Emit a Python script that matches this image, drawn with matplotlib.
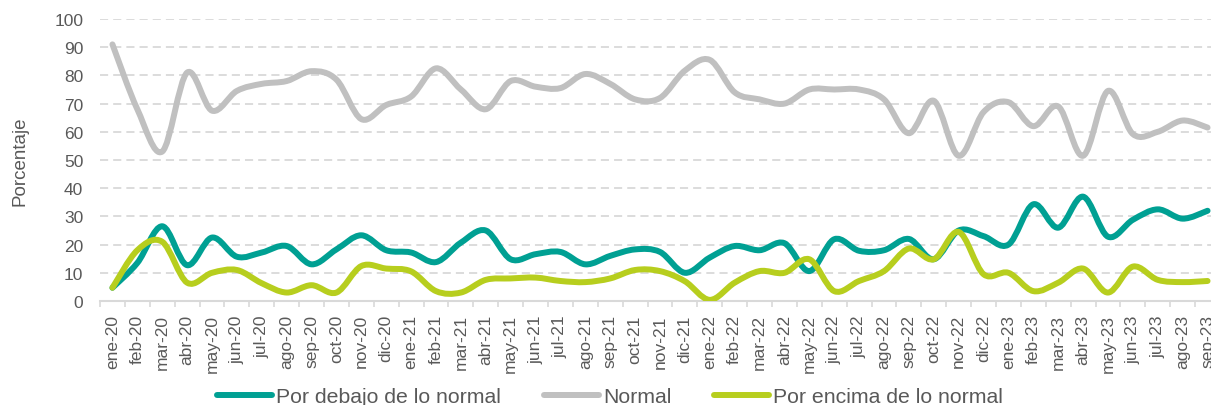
import numpy as np
import matplotlib
matplotlib.use("Agg")
import matplotlib.pyplot as plt
from matplotlib.path import Path
from matplotlib.patches import PathPatch
from matplotlib.lines import Line2D

plt.rcParams['font.family'] = ['Liberation Sans', 'DejaVu Sans']

# data
month_names = ['ene', 'feb', 'mar', 'abr', 'may', 'jun', 'jul', 'ago', 'sep', 'oct', 'nov', 'dic']
labels = [f'{m}-{y}' for y in ['20', '21', '22'] for m in month_names] + \
         [f'{m}-23' for m in month_names[:9]]

debajo = [4.7, 13.5, 26.5, 12.7, 22.5, 15.7, 17.2, 19.5, 13, 18.3, 23.3, 18,
          17.2, 13.8, 20.7, 25, 14.8, 16.6, 17.4, 13, 16, 18.3, 17.4, 10,
          15.4, 19.5, 18, 20.5, 10.6, 21.9, 17.8, 18, 22, 14.8, 25, 23,
          20, 34.3, 26, 37, 22.8, 28.8, 32.5, 29.2, 32]
normal = [91, 68, 53, 81, 67.5, 74.5, 77, 78, 81.5, 78.5, 64.5, 69.5,
          72.5, 82.5, 75, 68, 78, 76, 75.5, 80.5, 77, 71.5, 72, 81.7,
          85.5, 74, 71.5, 70, 75, 75, 75, 71.5, 59.5, 71, 51.5, 67,
          70.5, 62, 69, 51.5, 74.5, 59.2, 60, 64, 61.5]
encima = [4.7, 18, 21, 6.5, 10, 11, 6.3, 3, 5.6, 3, 12.4, 11.5,
          10.5, 3.5, 3, 7.5, 8, 8.3, 7.1, 6.7, 8, 11, 10.6, 7,
          0.4, 6.5, 10.6, 10, 14.8, 3.5, 7.1, 10.6, 18.6, 14.8, 24.5, 9.5,
          10, 3.5, 6.5, 11.5, 3, 12.2, 7.5, 6.7, 7.1]

series = [
    ('Por debajo de lo normal', debajo, '#00A093'),
    ('Normal', normal, '#C0C0C0'),
    ('Por encima de lo normal', encima, '#B7CE1E'),
]


def smooth_path(xs, ys):
    # excel-like smoothed line: cubic bezier through each point
    p = np.column_stack([xs, ys]).astype(float)
    ext = np.vstack([p[0], p, p[-1]])
    verts = [p[0]]
    codes = [Path.MOVETO]
    for i in range(len(p) - 1):
        c1 = ext[i + 1] + (ext[i + 2] - ext[i]) / 6
        c2 = ext[i + 2] - (ext[i + 3] - ext[i + 1]) / 6
        verts += [c1, c2, p[i + 1]]
        codes += [Path.CURVE4] * 3
    return Path(verts, codes)


fig = plt.figure(figsize=(12.11, 4.06), dpi=100)
ax = fig.add_axes([100 / 1211, 104 / 406, 1120 / 1211, 282 / 406])

x = np.arange(len(labels))
handles = []
for name, vals, col in series:
    patch = PathPatch(smooth_path(x, vals), fill=False, edgecolor=col, lw=4.3,
                      capstyle='round', joinstyle='round', zorder=3)
    ax.add_patch(patch)
    handles.append(Line2D([], [], color=col, lw=4.3, solid_capstyle='round', label=name))

ax.set_xlim(-0.5, len(labels) - 0.5)
ax.set_ylim(0, 100)
ax.set_yticks(range(0, 101, 10))
ax.yaxis.grid(True, color='#D9D9D9', lw=1.3, linestyle=(0, (4.5, 2.8)))
ax.set_axisbelow(True)

for s in ['top', 'right', 'left']:
    ax.spines[s].set_visible(False)
ax.spines['bottom'].set_color('#D9D9D9')
ax.spines['bottom'].set_linewidth(1.5)

ax.set_xticks(x)
ax.set_xticklabels(labels, rotation=90)
ax.set_xticks(np.arange(-0.5, len(labels), 1), minor=True)
ax.tick_params(axis='x', which='major', length=0, pad=9.5, labelsize=12.5, labelcolor='#595959')
ax.tick_params(axis='x', which='minor', length=4.5, width=1.2, color='#D9D9D9')
ax.tick_params(axis='y', length=0, pad=12, labelsize=12.5, labelcolor='#595959')

fig.text(20 / 1211, (406 - 161) / 406, 'Porcentaje', rotation=90, ha='center', va='center',
         fontsize=13.5, color='#595959')

fig.legend(handles=handles, loc='center', bbox_to_anchor=(610 / 1211, 8 / 406),
           ncol=3, frameon=False, fontsize=15.3, handlelength=2.6, handletextpad=0.2,
           columnspacing=2.0, labelcolor='#595959')

fig.savefig('out.png', dpi=100)
